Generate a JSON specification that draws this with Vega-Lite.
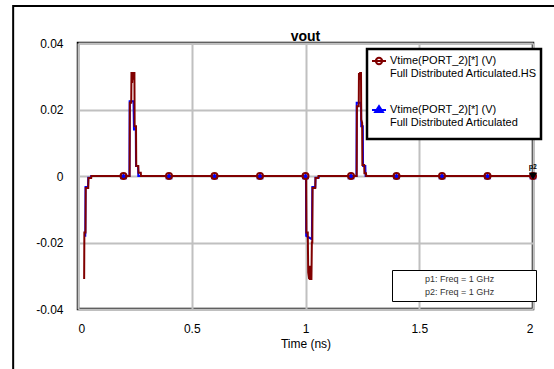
{
  "$schema": "https://vega.github.io/schema/vega-lite/v6.json",
  "width": 455,
  "height": 266,
  "autosize": {"type": "none"},
  "padding": {"left": 78, "top": 43, "right": 21, "bottom": 60},
  "background": "white",
  "title": {"text": "vout", "fontSize": 14, "fontWeight": "bold", "font": "Liberation Sans", "offset": -33, "dy": 6, "anchor": "middle", "frame": "group", "color": "black"},
  "config": {
    "view": {"stroke": "black", "strokeWidth": 2.5},
    "font": "Liberation Sans",
    "axis": {"grid": true, "gridColor": "#c0c0c0", "gridWidth": 2, "ticks": false, "domain": false, "labelFontSize": 12, "labelColor": "black", "titleFontSize": 12, "titleFontWeight": "normal", "titleColor": "black", "labelFont": "Liberation Sans", "titleFont": "Liberation Sans"}
  },
  "datasets": {
    "trace": [
      {"s": "Full Distributed Articulated", "t": 0.028, "v": -0.018},
      {"s": "Full Distributed Articulated", "t": 0.032, "v": -0.018},
      {"s": "Full Distributed Articulated", "t": 0.033, "v": -0.0033},
      {"s": "Full Distributed Articulated", "t": 0.044, "v": -0.0033},
      {"s": "Full Distributed Articulated", "t": 0.045, "v": -0.0005},
      {"s": "Full Distributed Articulated", "t": 0.057, "v": -0.0005},
      {"s": "Full Distributed Articulated", "t": 0.058, "v": 0},
      {"s": "Full Distributed Articulated", "t": 0.226, "v": 0},
      {"s": "Full Distributed Articulated", "t": 0.227, "v": 0.0225},
      {"s": "Full Distributed Articulated", "t": 0.244, "v": 0.0225},
      {"s": "Full Distributed Articulated", "t": 0.246, "v": 0.014},
      {"s": "Full Distributed Articulated", "t": 0.254, "v": 0.014},
      {"s": "Full Distributed Articulated", "t": 0.255, "v": 0.003},
      {"s": "Full Distributed Articulated", "t": 0.264, "v": 0.003},
      {"s": "Full Distributed Articulated", "t": 0.265, "v": 0},
      {"s": "Full Distributed Articulated", "t": 1.002, "v": 0},
      {"s": "Full Distributed Articulated", "t": 1.003, "v": -0.018},
      {"s": "Full Distributed Articulated", "t": 1.028, "v": -0.019},
      {"s": "Full Distributed Articulated", "t": 1.030, "v": -0.0033},
      {"s": "Full Distributed Articulated", "t": 1.043, "v": -0.0033},
      {"s": "Full Distributed Articulated", "t": 1.044, "v": -0.0005},
      {"s": "Full Distributed Articulated", "t": 1.058, "v": -0.0005},
      {"s": "Full Distributed Articulated", "t": 1.059, "v": 0},
      {"s": "Full Distributed Articulated", "t": 1.224, "v": 0},
      {"s": "Full Distributed Articulated", "t": 1.225, "v": 0.022},
      {"s": "Full Distributed Articulated", "t": 1.244, "v": 0.022},
      {"s": "Full Distributed Articulated", "t": 1.245, "v": 0.015},
      {"s": "Full Distributed Articulated", "t": 1.252, "v": 0.015},
      {"s": "Full Distributed Articulated", "t": 1.253, "v": 0.003},
      {"s": "Full Distributed Articulated", "t": 1.263, "v": 0.003},
      {"s": "Full Distributed Articulated", "t": 1.264, "v": 0},
      {"s": "Full Distributed Articulated", "t": 2.0, "v": 0},
      {"s": "Full Distributed Articulated.HS", "t": 0.027, "v": -0.031},
      {"s": "Full Distributed Articulated.HS", "t": 0.028, "v": -0.017},
      {"s": "Full Distributed Articulated.HS", "t": 0.033, "v": -0.017},
      {"s": "Full Distributed Articulated.HS", "t": 0.034, "v": -0.0036},
      {"s": "Full Distributed Articulated.HS", "t": 0.045, "v": -0.0036},
      {"s": "Full Distributed Articulated.HS", "t": 0.046, "v": -0.0006},
      {"s": "Full Distributed Articulated.HS", "t": 0.058, "v": -0.0006},
      {"s": "Full Distributed Articulated.HS", "t": 0.059, "v": 0},
      {"s": "Full Distributed Articulated.HS", "t": 0.227, "v": 0},
      {"s": "Full Distributed Articulated.HS", "t": 0.228, "v": 0.022},
      {"s": "Full Distributed Articulated.HS", "t": 0.234, "v": 0.022},
      {"s": "Full Distributed Articulated.HS", "t": 0.235, "v": 0.031},
      {"s": "Full Distributed Articulated.HS", "t": 0.237, "v": 0.031},
      {"s": "Full Distributed Articulated.HS", "t": 0.238, "v": 0.028},
      {"s": "Full Distributed Articulated.HS", "t": 0.240, "v": 0.031},
      {"s": "Full Distributed Articulated.HS", "t": 0.243, "v": 0.031},
      {"s": "Full Distributed Articulated.HS", "t": 0.244, "v": 0.029},
      {"s": "Full Distributed Articulated.HS", "t": 0.247, "v": 0.031},
      {"s": "Full Distributed Articulated.HS", "t": 0.248, "v": 0.031},
      {"s": "Full Distributed Articulated.HS", "t": 0.249, "v": 0.015},
      {"s": "Full Distributed Articulated.HS", "t": 0.255, "v": 0.015},
      {"s": "Full Distributed Articulated.HS", "t": 0.256, "v": 0.003},
      {"s": "Full Distributed Articulated.HS", "t": 0.265, "v": 0.003},
      {"s": "Full Distributed Articulated.HS", "t": 0.266, "v": 0.001},
      {"s": "Full Distributed Articulated.HS", "t": 0.276, "v": 0.001},
      {"s": "Full Distributed Articulated.HS", "t": 0.277, "v": 0},
      {"s": "Full Distributed Articulated.HS", "t": 1.003, "v": 0},
      {"s": "Full Distributed Articulated.HS", "t": 1.004, "v": -0.017},
      {"s": "Full Distributed Articulated.HS", "t": 1.010, "v": -0.017},
      {"s": "Full Distributed Articulated.HS", "t": 1.012, "v": -0.029},
      {"s": "Full Distributed Articulated.HS", "t": 1.016, "v": -0.031},
      {"s": "Full Distributed Articulated.HS", "t": 1.018, "v": -0.027},
      {"s": "Full Distributed Articulated.HS", "t": 1.020, "v": -0.031},
      {"s": "Full Distributed Articulated.HS", "t": 1.026, "v": -0.031},
      {"s": "Full Distributed Articulated.HS", "t": 1.028, "v": -0.020},
      {"s": "Full Distributed Articulated.HS", "t": 1.030, "v": -0.020},
      {"s": "Full Distributed Articulated.HS", "t": 1.031, "v": -0.0036},
      {"s": "Full Distributed Articulated.HS", "t": 1.043, "v": -0.0036},
      {"s": "Full Distributed Articulated.HS", "t": 1.044, "v": -0.0006},
      {"s": "Full Distributed Articulated.HS", "t": 1.056, "v": -0.0006},
      {"s": "Full Distributed Articulated.HS", "t": 1.057, "v": 0},
      {"s": "Full Distributed Articulated.HS", "t": 1.225, "v": 0},
      {"s": "Full Distributed Articulated.HS", "t": 1.226, "v": 0.021},
      {"s": "Full Distributed Articulated.HS", "t": 1.234, "v": 0.021},
      {"s": "Full Distributed Articulated.HS", "t": 1.235, "v": 0.031},
      {"s": "Full Distributed Articulated.HS", "t": 1.238, "v": 0.029},
      {"s": "Full Distributed Articulated.HS", "t": 1.240, "v": 0.031},
      {"s": "Full Distributed Articulated.HS", "t": 1.244, "v": 0.031},
      {"s": "Full Distributed Articulated.HS", "t": 1.245, "v": 0.017},
      {"s": "Full Distributed Articulated.HS", "t": 1.249, "v": 0.016},
      {"s": "Full Distributed Articulated.HS", "t": 1.250, "v": 0.0033},
      {"s": "Full Distributed Articulated.HS", "t": 1.258, "v": 0.0033},
      {"s": "Full Distributed Articulated.HS", "t": 1.259, "v": 0.0008},
      {"s": "Full Distributed Articulated.HS", "t": 1.266, "v": 0.0008},
      {"s": "Full Distributed Articulated.HS", "t": 1.267, "v": 0},
      {"s": "Full Distributed Articulated.HS", "t": 1.99, "v": 0}
    ],
    "markers": [
      {"t": 0.2, "v": 0}, {"t": 0.4, "v": 0}, {"t": 0.6, "v": 0}, {"t": 0.8, "v": 0}, {"t": 1.0, "v": 0},
      {"t": 1.2, "v": 0}, {"t": 1.4, "v": 0}, {"t": 1.6, "v": 0}, {"t": 1.8, "v": 0}, {"t": 2.0, "v": 0}
    ],
    "pm": [
      {"m": "p1", "f": "p1: Freq = 1 GHz", "t": 2.0, "v": 0},
      {"m": "p2", "f": "p2: Freq = 1 GHz", "t": 2.0, "v": 0}
    ]
  },
  "layer": [
    {
      "data": {"name": "trace"},
      "transform": [{"filter": "datum.s == 'Full Distributed Articulated'"}],
      "mark": {"type": "line", "strokeWidth": 2, "interpolate": "linear"},
      "encoding": {
        "x": {"field": "t", "type": "quantitative", "scale": {"domain": [0, 2], "nice": false},
              "axis": {"title": "Time (ns)", "values": [0, 0.5, 1, 1.5, 2], "format": "~g", "labelPadding": 14, "titlePadding": 4}},
        "y": {"field": "v", "type": "quantitative", "scale": {"domain": [-0.04, 0.04], "nice": false},
              "axis": {"title": null, "values": [-0.04, -0.02, 0, 0.02, 0.04], "labelPadding": 15,
                       "labelExpr": "datum.value == 0 ? '0' : (datum.value < 0 ? '-' : '') + format(abs(datum.value), '.2f')"}},
        "order": {"value": null},
        "color": {"field": "s", "type": "nominal",
          "scale": {"domain": ["Full Distributed Articulated.HS", "Full Distributed Articulated"], "range": ["#800000", "#0000ff"]},
          "legend": {"orient": "none", "legendX": 289, "legendY": 6, "title": " ", "titleOrient": "bottom", "titleFontSize": 2, "titlePadding": 5,
            "labelExpr": "['Vtime(PORT_2)[*] (V)', datum.label]",
            "labelFontSize": 11, "labelLineHeight": 12, "labelColor": "black", "labelFont": "Liberation Sans",
            "labelOffset": 3, "padding": 4, "rowPadding": 23, "symbolSize": 196, "labelLimit": 300,
            "strokeColor": "black", "fillColor": "white",
            "encode": {
              "legend": {"update": {"strokeWidth": {"value": 2.5}}},
              "symbols": {"update": {
                "shape": {"signal": "datum.value == 'Full Distributed Articulated.HS' ? 'M-1,0H1M0.45,0A0.45,0.45,0,1,1,-0.45,0A0.45,0.45,0,1,1,0.45,0' : 'M-1,0H1M0,-0.55L0.55,0.3L-0.55,0.3Z'"},
                "fill": {"signal": "datum.value == 'Full Distributed Articulated.HS' ? 'transparent' : '#0000ff'"},
                "fillOpacity": {"value": 1},
                "strokeWidth": {"value": 2}
              }}}
          }}
      }
    },
    {
      "data": {"name": "trace"},
      "transform": [{"filter": "datum.s == 'Full Distributed Articulated.HS'"}],
      "mark": {"type": "line", "strokeWidth": 2, "interpolate": "linear"},
      "encoding": {
        "x": {"field": "t", "type": "quantitative"},
        "y": {"field": "v", "type": "quantitative"},
        "order": {"value": null},
        "color": {"field": "s", "type": "nominal"}
      }
    },
    {
      "data": {"name": "markers"},
      "mark": {"type": "point", "shape": "triangle-up", "filled": true, "color": "#0000ff", "size": 55, "opacity": 1},
      "encoding": {
        "x": {"field": "t", "type": "quantitative"},
        "y": {"field": "v", "type": "quantitative"}
      }
    },
    {
      "data": {"name": "markers"},
      "mark": {"type": "point", "shape": "circle", "filled": false, "color": "#800000", "size": 36, "strokeWidth": 2, "opacity": 1},
      "encoding": {
        "x": {"field": "t", "type": "quantitative"},
        "y": {"field": "v", "type": "quantitative"}
      }
    },
    {
      "data": {"name": "pm"},
      "mark": {"type": "point", "shape": "triangle-down", "filled": true, "color": "black", "size": 60, "opacity": 1},
      "encoding": {
        "x": {"field": "t", "type": "quantitative"},
        "y": {"field": "v", "type": "quantitative"},
        "strokeDash": {"field": "f", "type": "nominal",
          "legend": {"orient": "none", "legendX": 314, "legendY": 227, "title": " ", "titleOrient": "right", "titlePadding": 38,
            "symbolOpacity": 0, "symbolSize": 1, "labelFontSize": 9, "labelColor": "#333333", "labelFont": "Liberation Sans",
            "labelOffset": 20, "padding": 4, "rowPadding": 3, "strokeColor": "black", "fillColor": "white",
            "encode": {"legend": {"update": {"strokeWidth": {"value": 2.5}}}}}}
      }
    },
    {
      "data": {"name": "pm"},
      "mark": {"type": "text", "dy": -9, "fontSize": 7, "color": "black"},
      "encoding": {
        "x": {"field": "t", "type": "quantitative"},
        "y": {"field": "v", "type": "quantitative"},
        "text": {"field": "m"}
      }
    },
    {
      "data": {"values": [{"frame": "outer"}]},
      "mark": {"type": "rect", "fill": null, "stroke": "black", "strokeWidth": 2, "clip": false},
      "encoding": {
        "x": {"datum": -0.285, "type": "quantitative"},
        "x2": {"datum": 2.7},
        "y": {"datum": 0.0511, "type": "quantitative"},
        "y2": {"datum": -0.1}
      }
    }
  ]
}
